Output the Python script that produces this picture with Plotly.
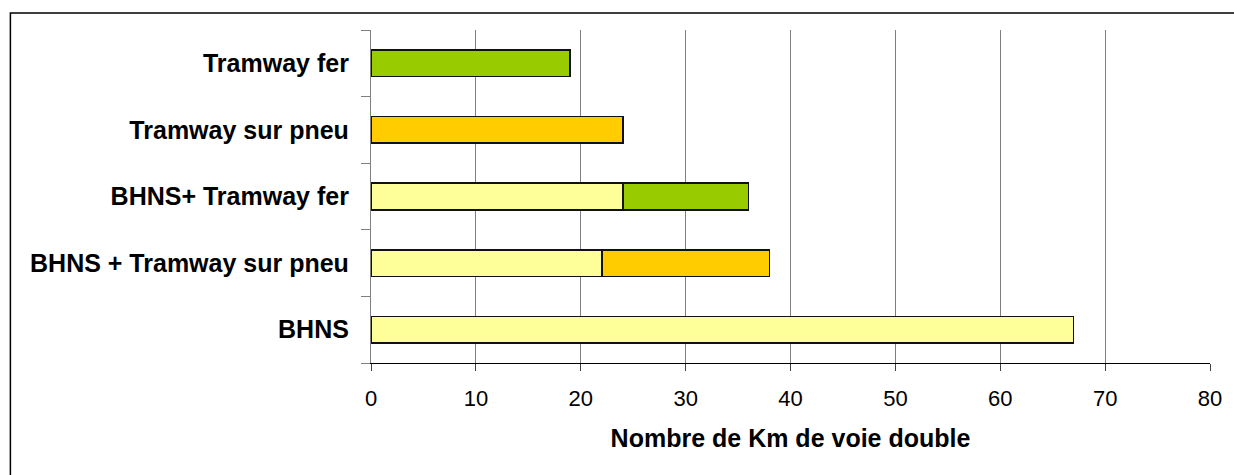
import plotly.graph_objects as go

# Categories listed bottom to top on the vertical axis
categories = [
    "BHNS",
    "BHNS + Tramway sur pneu",
    "BHNS+ Tramway fer",
    "Tramway sur pneu",
    "Tramway fer",
]

# Kilometres of double track per mode (None where the mode is absent)
km_bhns = [67, 22, 24, None, None]
km_tram_pneu = [None, 16, None, 24, None]
km_tram_fer = [None, None, 12, None, 19]

x_ticks = [0, 10, 20, 30, 40, 50, 60, 70, 80]
x_title = "Nombre de Km de voie double"

FONT = "Liberation Sans, Arial, sans-serif"

fig = go.Figure()
for name, vals, color in [
    ("BHNS", km_bhns, "#FFFF99"),
    ("Tramway sur pneu", km_tram_pneu, "#FFCC00"),
    ("Tramway fer", km_tram_fer, "#99CC00"),
]:
    fig.add_trace(go.Bar(
        y=categories, x=vals, name=name, orientation="h",
        marker=dict(color=color, line=dict(color="#111111", width=1.6)),
        hoverinfo="x+y",
    ))

fig.update_layout(
    barmode="stack",
    bargap=0.6,
    width=1234, height=475,
    margin=dict(l=371, r=22, t=30, b=112),
    paper_bgcolor="white", plot_bgcolor="white",
    showlegend=False,
    font=dict(family=FONT, size=22, color="black"),
    xaxis=dict(
        range=[0, 80], tickvals=x_ticks, ticktext=[str(v) for v in x_ticks],
        showgrid=True, gridcolor="#7f7f7f", gridwidth=1.2,
        zeroline=False,
        showline=True, linecolor="black", linewidth=1.2,
        ticks="outside", ticklen=7, tickcolor="#444444", tickwidth=1.2,
        ticklabelstandoff=8,
        tickfont=dict(family=FONT, size=22, color="black"),
        title=dict(text="<b>" + x_title + "</b>", standoff=19,
                   font=dict(family=FONT, size=25, color="black")),
        fixedrange=True,
    ),
    yaxis=dict(
        categoryorder="array", categoryarray=categories,
        showgrid=False, zeroline=False,
        showline=True, linecolor="#7f7f7f", linewidth=1.2,
        ticks="outside", tickson="boundaries", ticklen=9,
        tickcolor="#7f7f7f", tickwidth=1.2,
        ticklabelstandoff=16,
        tickfont=dict(family=FONT, size=25, color="black", weight="bold"),
        fixedrange=True,
    ),
    shapes=[dict(
        type="rect", xref="paper", yref="paper",
        x0=-0.4298, x1=1.2, y0=-1.0, y1=1.051,
        line=dict(color="black", width=1.5), fillcolor="rgba(0,0,0,0)",
        layer="below",
    )],
)

fig.write_html("out.html")
